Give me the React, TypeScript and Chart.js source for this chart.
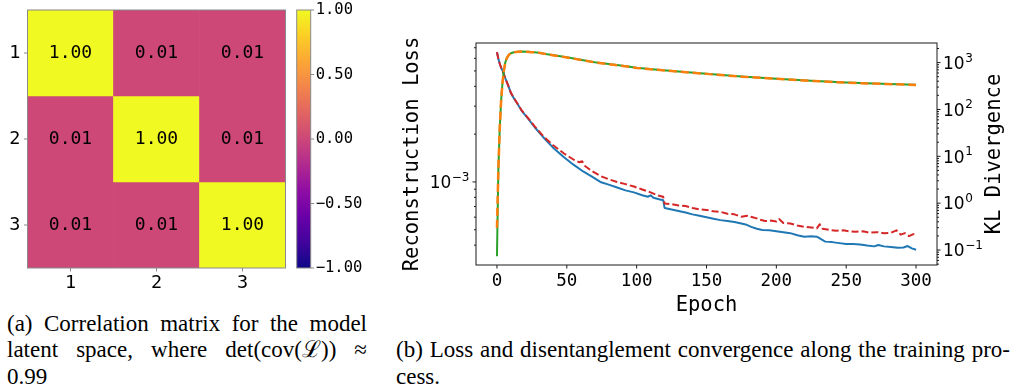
import React, { useEffect, useRef } from 'react';
import { Chart, registerables } from 'chart.js';

Chart.register(...registerables);

// ---------------- data ----------------
const matrixLabels = ['1', '2', '3'];
const corrRow1 = [1.0, 0.01, 0.01];
const corrRow2 = [0.01, 1.0, 0.01];
const corrRow3 = [0.01, 0.01, 1.0];
const colorbarTicks = [-1, -0.5, 0, 0.5, 1];
const colorbarLabels = ['\u22121.00', '\u22120.50', '0.00', '0.50', '1.00'];

const epochTicks = [0, 50, 100, 150, 200, 250, 300];
const logBase = '10';
const reconMajorTicks = [1e-3];
const reconMajorExps = ['\u22123'];
const reconMinorTicks = [4e-4, 5e-4, 6e-4, 7e-4, 8e-4, 9e-4, 2e-3, 3e-3, 4e-3, 5e-3, 6e-3, 7e-3];
const klMajorTicks = [0.1, 1, 10, 100, 1000];
const klMajorExps = ['\u22121', '0', '1', '2', '3'];
const klMinorTicks = [
  0.05, 0.06, 0.07, 0.08, 0.09,
  0.2, 0.3, 0.4, 0.5, 0.6, 0.7, 0.8, 0.9,
  2, 3, 4, 5, 6, 7, 8, 9,
  20, 30, 40, 50, 60, 70, 80, 90,
  200, 300, 400, 500, 600, 700, 800, 900,
  2000,
];

const xTitle = 'Epoch';
const yLeftTitle = 'Reconstruction Loss';
const yRightTitle = 'KL Divergence';

// Reconstruction loss (blue, solid)
const recTrainEpochs = [0, 1, 2, 3, 4, 5, 6, 8, 10, 12, 15, 18, 22, 27, 33, 40, 48, 55, 62, 68, 74, 80, 86, 92, 98, 104, 108, 110, 112, 116, 119, 120, 125, 130, 135, 140, 145, 150, 155, 160, 165, 170, 175, 178, 182, 186, 190, 195, 200, 205, 210, 215, 220, 225, 229, 232, 235, 240, 245, 250, 255, 260, 265, 270, 273, 277, 282, 287, 291, 294, 297, 300];
const recTrain = [6.57e-3, 5.96e-3, 5.55e-3, 5.24e-3, 5.03e-3, 4.75e-3, 4.49e-3, 4.06e-3, 3.63e-3, 3.38e-3, 3.07e-3, 2.78e-3, 2.52e-3, 2.21e-3, 1.92e-3, 1.65e-3, 1.43e-3, 1.28e-3, 1.16e-3, 1.08e-3, 1.0e-3, 9.62e-4, 9.23e-4, 8.85e-4, 8.6e-4, 8.24e-4, 8.07e-4, 8.24e-4, 7.96e-4, 7.79e-4, 7.68e-4, 6.86e-4, 6.71e-4, 6.57e-4, 6.43e-4, 6.25e-4, 6.12e-4, 6.0e-4, 5.87e-4, 5.75e-4, 5.67e-4, 5.59e-4, 5.47e-4, 5.4e-4, 5.21e-4, 5.07e-4, 4.99e-4, 4.96e-4, 4.89e-4, 4.82e-4, 4.76e-4, 4.62e-4, 4.52e-4, 4.55e-4, 4.52e-4, 4.36e-4, 4.21e-4, 4.18e-4, 4.12e-4, 4.07e-4, 4.07e-4, 4.04e-4, 3.98e-4, 3.93e-4, 4.01e-4, 3.93e-4, 3.9e-4, 3.85e-4, 3.87e-4, 3.95e-4, 3.82e-4, 3.74e-4];

// Reconstruction loss (red, dashed)
const recValEpochs = [0, 1, 2, 3, 4, 5, 6, 8, 10, 12, 15, 18, 22, 27, 33, 40, 48, 55, 59, 61, 63, 68, 74, 80, 86, 92, 98, 104, 110, 115, 119, 120, 125, 130, 135, 140, 145, 150, 155, 160, 165, 170, 175, 179, 183, 186, 188, 192, 196, 200, 202, 205, 210, 215, 220, 225, 229, 231, 233, 238, 243, 248, 252, 257, 262, 267, 272, 277, 282, 286, 289, 292, 295, 298, 300];
const recVal = [6.57e-3, 5.96e-3, 5.55e-3, 5.24e-3, 5.03e-3, 4.75e-3, 4.49e-3, 4.06e-3, 3.64e-3, 3.39e-3, 3.08e-3, 2.8e-3, 2.54e-3, 2.24e-3, 1.95e-3, 1.71e-3, 1.51e-3, 1.38e-3, 1.33e-3, 1.35e-3, 1.26e-3, 1.17e-3, 1.09e-3, 1.04e-3, 1.0e-3, 9.69e-4, 9.36e-4, 8.97e-4, 8.6e-4, 8.24e-4, 8.07e-4, 7.31e-4, 7.26e-4, 7.1e-4, 7.05e-4, 6.86e-4, 6.71e-4, 6.67e-4, 6.53e-4, 6.48e-4, 6.3e-4, 6.25e-4, 6.04e-4, 6.12e-4, 5.99e-4, 5.9e-4, 5.79e-4, 5.67e-4, 5.71e-4, 5.63e-4, 5.85e-4, 5.51e-4, 5.47e-4, 5.32e-4, 5.21e-4, 5.17e-4, 5.1e-4, 5.42e-4, 5.07e-4, 4.99e-4, 4.93e-4, 4.96e-4, 4.89e-4, 4.86e-4, 4.89e-4, 4.79e-4, 4.83e-4, 4.76e-4, 4.79e-4, 4.96e-4, 4.66e-4, 4.76e-4, 4.56e-4, 4.69e-4, 4.66e-4];

// KL divergence (green solid, orange dashed)
const klEpochs = [0, 1, 2, 3, 4, 5, 6, 7, 8, 9, 10, 12, 15, 18, 25, 30, 36, 42, 50, 60, 70, 80, 90, 100, 115, 130, 150, 175, 200, 225, 250, 275, 300];
const klTrain = [0.074, 5.05, 39.7, 157, 380, 685, 1015, 1235, 1396, 1503, 1579, 1660, 1700, 1718, 1675, 1619, 1503, 1410, 1297, 1147, 1015, 929, 855, 775, 702, 646, 577, 503, 452, 409, 375, 353, 336];
const klVal = [0.3, 5.2, 40, 160, 380, 690, 1010, 1230, 1390, 1500, 1575, 1655, 1700, 1715, 1670, 1615, 1500, 1405, 1290, 1140, 1010, 925, 850, 770, 700, 643, 574, 500, 450, 407, 373, 351, 334];

// ---------------- styling helpers ----------------
const MONO = '"DejaVu Sans Mono", monospace';
const SANS = '"DejaVu Sans", sans-serif';
const SERIF = '"Liberation Serif", "Times New Roman", serif';

const plasmaStops = [
  [13, 8, 135], [65, 4, 157], [106, 0, 168], [143, 13, 164], [177, 42, 144],
  [204, 71, 120], [225, 100, 98], [242, 132, 75], [252, 166, 54], [252, 206, 37], [240, 249, 33],
];
const rgb = (c: number[]) => `rgb(${c[0]},${c[1]},${c[2]})`;
function plasma(t: number) {
  const n = plasmaStops.length - 1;
  const p = Math.min(Math.max(t, 0), 1) * n;
  const i = Math.min(Math.floor(p), n - 1);
  const f = p - i;
  const a = plasmaStops[i], b = plasmaStops[i + 1];
  return rgb([0, 1, 2].map((k) => Math.round(a[k] + (b[k] - a[k]) * f)));
}

const fixW = (w: number) => (s: any) => {
  s.width = w;
  s.paddingLeft = 0; s.paddingRight = 0; s.paddingTop = 0; s.paddingBottom = 0;
};
const fixH = (h: number) => (s: any) => {
  s.height = h;
  s.paddingLeft = 0; s.paddingRight = 0; s.paddingTop = 0; s.paddingBottom = 0;
};
const noGrid = { display: false, drawTicks: false };
const noBorder = { display: false };

const tickList = (major: number[], minor: number[]) =>
  [...minor.map((v) => ({ value: v, major: false })), ...major.map((v) => ({ value: v, major: true }))].sort(
    (a, b) => a.value - b.value,
  );

type DecorSpec = { axis: string; side: 'left' | 'right' | 'bottom'; majorLen: number; minorLen: number };
function decor(color: string, lw: number, specs: DecorSpec[]) {
  return {
    id: 'decor',
    afterDraw(chart: any) {
      const { ctx, chartArea: a } = chart;
      ctx.save();
      ctx.strokeStyle = color;
      ctx.lineWidth = lw;
      ctx.strokeRect(a.left, a.top, a.right - a.left, a.bottom - a.top);
      specs.forEach((sp) => {
        const sc = chart.scales[sp.axis];
        sc.ticks.forEach((t: any) => {
          const p = sc.getPixelForValue(t.value);
          const len = t.major ? sp.majorLen : sp.minorLen;
          ctx.beginPath();
          if (sp.side === 'bottom') {
            ctx.moveTo(p, a.bottom);
            ctx.lineTo(p, a.bottom + len);
          } else if (sp.side === 'left') {
            ctx.moveTo(a.left, p);
            ctx.lineTo(a.left - len, p);
          } else {
            ctx.moveTo(a.right, p);
            ctx.lineTo(a.right + len, p);
          }
          ctx.stroke();
        });
      });
      ctx.restore();
    },
  };
}

const pts = (xs: number[], ys: number[]) => xs.map((x, i) => ({ x, y: ys[i] }));

export default function App() {
  const heatRef = useRef<HTMLCanvasElement>(null);
  const cbarRef = useRef<HTMLCanvasElement>(null);
  const lineRef = useRef<HTMLCanvasElement>(null);

  useEffect(() => {
    const corrRows = [corrRow1, corrRow2, corrRow3];

    const heatLabels = {
      id: 'heatLabels',
      afterDatasetsDraw(chart: any) {
        const { ctx } = chart;
        const x = chart.scales.x, y = chart.scales.y;
        ctx.save();
        ctx.font = `18px ${MONO}`;
        ctx.fillStyle = '#000';
        ctx.textAlign = 'center';
        ctx.textBaseline = 'middle';
        corrRows.forEach((row, r) =>
          row.forEach((v, c) => {
            ctx.fillText(v.toFixed(2), x.getPixelForValue(c), y.getPixelForValue(r + 1));
          }),
        );
        ctx.restore();
      },
    };

    const heat = new Chart(heatRef.current!, {
      type: 'bar',
      data: {
        labels: matrixLabels,
        datasets: corrRows.map((row, r) => ({
          data: row.map(() => [r + 0.5, r + 1.5]),
          backgroundColor: row.map((v) => plasma((v + 1) / 2)),
          borderWidth: 0,
          barPercentage: 1,
          categoryPercentage: 1,
          grouped: false,
        })) as any,
      },
      options: {
        animation: false,
        responsive: false,
        devicePixelRatio: 1,
        layout: { padding: { left: 0, top: 10, right: 4.5, bottom: 0 } },
        plugins: { legend: { display: false }, tooltip: { enabled: false } },
        scales: {
          x: {
            type: 'category',
            grid: noGrid,
            border: noBorder,
            ticks: { color: '#000', font: { family: MONO, size: 18.5 }, padding: 4, maxRotation: 0, minRotation: 0, autoSkip: false },
            afterFit: fixH(32),
          },
          y: {
            type: 'linear',
            min: 0.5,
            max: 3.5,
            reverse: true,
            grid: noGrid,
            border: noBorder,
            ticks: {
              color: '#000',
              font: { family: MONO, size: 18.5 },
              padding: 7,
              autoSkip: false,
              callback: (v: any) => matrixLabels[Math.round(v) - 1] ?? '',
            },
            afterBuildTicks: (s: any) => {
              s.ticks = matrixLabels.map((_, i) => ({ value: i + 1, major: true }));
            },
            afterFit: fixW(27.5),
          },
        },
      } as any,
      plugins: [
        heatLabels,
        decor('#8a8a8a', 1, [
          { axis: 'x', side: 'bottom', majorLen: 3.5, minorLen: 3.5 },
          { axis: 'y', side: 'left', majorLen: 3.5, minorLen: 3.5 },
        ]),
      ],
    });

    const cbar = new Chart(cbarRef.current!, {
      type: 'bar',
      data: {
        labels: [''],
        datasets: [
          {
            data: [[colorbarTicks[0], colorbarTicks[colorbarTicks.length - 1]]] as any,
            backgroundColor: (c: any) => {
              const a = c.chart.chartArea;
              if (!a) return plasma(0.5);
              const g = c.chart.ctx.createLinearGradient(0, a.bottom, 0, a.top);
              plasmaStops.forEach((col, i) => g.addColorStop(i / (plasmaStops.length - 1), rgb(col)));
              return g;
            },
            borderWidth: 0,
            barPercentage: 1,
            categoryPercentage: 1,
          },
        ],
      },
      options: {
        animation: false,
        responsive: false,
        devicePixelRatio: 1,
        layout: { padding: { left: 6.7, top: 10, right: 0, bottom: 32 } },
        plugins: { legend: { display: false }, tooltip: { enabled: false } },
        scales: {
          x: { display: false },
          y: {
            position: 'right',
            min: -1,
            max: 1,
            grid: noGrid,
            border: noBorder,
            ticks: {
              color: '#000',
              font: { family: MONO, size: 15.5 },
              padding: 5,
              autoSkip: false,
              callback: (v: any) => {
                const i = colorbarTicks.indexOf(v);
                return i >= 0 ? colorbarLabels[i] : '';
              },
            },
            afterBuildTicks: (s: any) => {
              s.ticks = colorbarTicks.map((v) => ({ value: v, major: true }));
            },
            afterFit: fixW(79.3),
          },
        },
      } as any,
      plugins: [decor('#8a8a8a', 1, [{ axis: 'y', side: 'right', majorLen: 3.5, minorLen: 3.5 }])],
    });

    // axis titles + power-of-ten tick labels with real superscripts
    const titles = {
      id: 'titles',
      afterDraw(chart: any) {
        const { ctx, chartArea: a } = chart;
        ctx.save();
        ctx.fillStyle = '#000';
        ctx.font = `20.5px ${MONO}`;
        ctx.textAlign = 'center';
        ctx.textBaseline = 'middle';
        ctx.fillText(xTitle, (a.left + a.right) / 2, a.bottom + 41);
        const cy = (a.top + a.bottom) / 2;
        ctx.save();
        ctx.translate(13, cy);
        ctx.rotate(-Math.PI / 2);
        ctx.fillText(yLeftTitle, 0, 0);
        ctx.restore();
        ctx.save();
        ctx.translate(595, cy);
        ctx.rotate(-Math.PI / 2);
        ctx.fillText(yRightTitle, 0, 0);
        ctx.restore();

        const baseFont = `17px ${SANS}`;
        const supFont = `12px ${SANS}`;
        ctx.textAlign = 'left';
        ctx.textBaseline = 'alphabetic';
        const drawPow = (scale: any, majors: number[], exps: string[], side: 'left' | 'right') => {
          majors.forEach((v, i) => {
            const py = scale.getPixelForValue(v);
            ctx.font = baseFont;
            const wb = ctx.measureText(logBase).width;
            ctx.font = supFont;
            const ws = ctx.measureText(exps[i]).width;
            const x0 = side === 'left' ? a.left - 7 - (wb + ws) : a.right + 6;
            ctx.font = baseFont;
            ctx.fillText(logBase, x0, py + 6.2);
            ctx.font = supFont;
            ctx.fillText(exps[i], x0 + wb + 0.5, py - 1);
          });
        };
        drawPow(chart.scales.yL, reconMajorTicks, reconMajorExps, 'left');
        drawPow(chart.scales.yR, klMajorTicks, klMajorExps, 'right');
        ctx.restore();
      },
    };

    const line = new Chart(lineRef.current!, {
      type: 'line',
      data: {
        datasets: [
          { data: pts(klEpochs, klVal), borderColor: '#ff7f0e', borderWidth: 2.5, borderDash: [8, 4], yAxisID: 'yR' },
          { data: pts(klEpochs, klTrain), borderColor: '#2ca02c', borderWidth: 2, yAxisID: 'yR' },
          { data: pts(recValEpochs, recVal), borderColor: '#d62728', borderWidth: 2, borderDash: [7, 3], yAxisID: 'yL' },
          { data: pts(recTrainEpochs, recTrain), borderColor: '#1f77b4', borderWidth: 2, yAxisID: 'yL' },
        ] as any,
      },
      options: {
        animation: false,
        responsive: false,
        devicePixelRatio: 1,
        layout: { padding: { left: 0, top: 43, right: 0, bottom: 0 } },
        elements: { point: { radius: 0 }, line: { tension: 0, borderJoinStyle: 'round' } },
        plugins: { legend: { display: false }, tooltip: { enabled: false } },
        scales: {
          x: {
            type: 'linear',
            min: -15,
            max: 315,
            grid: noGrid,
            border: noBorder,
            ticks: {
              color: '#000',
              font: { family: MONO, size: 17.5 },
              padding: 5.5,
              maxRotation: 0,
              minRotation: 0,
              autoSkip: false,
              callback: (v: any) => String(v),
            },
            afterBuildTicks: (s: any) => {
              s.ticks = epochTicks.map((v) => ({ value: v, major: true }));
            },
            afterFit: fixH(65),
          },
          yL: {
            type: 'logarithmic',
            position: 'left',
            min: 3.243e-4,
            max: 7.496e-3,
            grid: noGrid,
            border: noBorder,
            ticks: { display: true, autoSkip: false, callback: () => '' },
            afterBuildTicks: (s: any) => {
              s.ticks = tickList(reconMajorTicks, reconMinorTicks);
            },
            afterFit: fixW(76),
          },
          yR: {
            type: 'logarithmic',
            position: 'right',
            min: 0.04791,
            max: 2617,
            grid: noGrid,
            border: noBorder,
            ticks: { display: true, autoSkip: false, callback: () => '' },
            afterBuildTicks: (s: any) => {
              s.ticks = tickList(klMajorTicks, klMinorTicks);
            },
            afterFit: fixW(79),
          },
        },
      } as any,
      plugins: [
        decor('#1a1a1a', 1, [
          { axis: 'x', side: 'bottom', majorLen: 3.5, minorLen: 2 },
          { axis: 'yL', side: 'left', majorLen: 3.5, minorLen: 2 },
          { axis: 'yR', side: 'right', majorLen: 3.5, minorLen: 2 },
        ]),
        titles,
      ],
    });

    return () => {
      heat.destroy();
      cbar.destroy();
      line.destroy();
    };
  }, []);

  const justifyLine: React.CSSProperties = { textAlign: 'justify', textAlignLast: 'justify', whiteSpace: 'nowrap' };
  const captionBox: React.CSSProperties = {
    position: 'absolute',
    fontFamily: SERIF,
    fontSize: 23,
    lineHeight: '26.7px',
    color: '#000',
  };

  return (
    <div style={{ position: 'absolute', left: 0, top: 0, width: 1016, height: 391, background: '#fff', overflow: 'hidden' }}>
      <canvas ref={heatRef} width={290} height={300} style={{ position: 'absolute', left: 0, top: 0, width: 290, height: 300 }} />
      <canvas ref={cbarRef} width={100} height={300} style={{ position: 'absolute', left: 290, top: 0, width: 100, height: 300 }} />
      <canvas ref={lineRef} width={616} height={330} style={{ position: 'absolute', left: 400, top: 0, width: 616, height: 330 }} />
      <div style={{ ...captionBox, left: 7, top: 310.6, width: 360 }}>
        <div style={justifyLine}>(a) Correlation matrix for the model</div>
        <div style={justifyLine}>latent space, where det(cov(ℒ)) ≈</div>
        <div>0.99</div>
      </div>
      <div style={{ ...captionBox, left: 396, top: 337.3, width: 614 }}>
        <div style={justifyLine}>(b) Loss and disentanglement convergence along the training pro-</div>
        <div>cess.</div>
      </div>
    </div>
  );
}
